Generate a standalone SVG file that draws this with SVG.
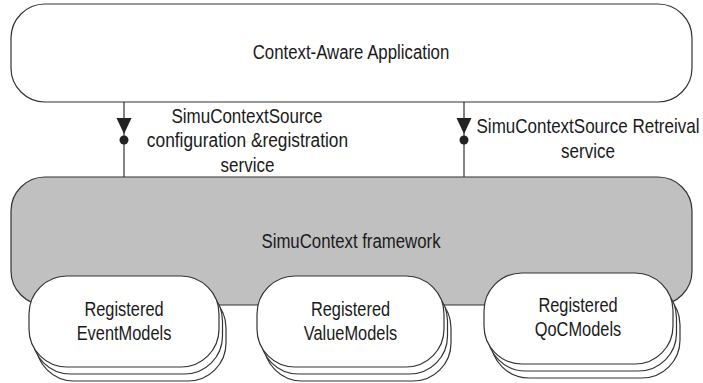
<svg xmlns="http://www.w3.org/2000/svg" width="703" height="383" viewBox="0 0 703 383">
<style>
.box{fill:#fff;stroke:#333;stroke-width:1.2}
.fw{fill:#c0c0c0;stroke:#333;stroke-width:1.2}
.ln{stroke:#333;stroke-width:1.2;fill:none}
.hd{fill:#222}
text{font-family:"Liberation Sans",Arial,sans-serif;font-size:21px;fill:#1a1a1a;text-anchor:middle}
</style>
<rect width="703" height="383" fill="#fff"/>
<g id="app">
<rect class="box" x="11" y="4" width="681" height="98" rx="34" ry="34"/>
<text transform="matrix(0.80 0 0 1 351 58.5)">Context-Aware Application</text>
</g>
<g id="framework">
<rect class="fw" x="11" y="177" width="681" height="128" rx="34" ry="34"/>
<text transform="matrix(0.80 0 0 1 351 248)">SimuContext framework</text>
</g>
<g id="connectors">
<line class="ln" x1="124" y1="102" x2="124" y2="177"/>
<path class="hd" d="M116.5,118 L131.5,118 L124,134 Z"/>
<circle class="hd" cx="124" cy="140" r="4.5"/>
<line class="ln" x1="464" y1="102" x2="464" y2="177"/>
<path class="hd" d="M456.5,118 L471.5,118 L464,134 Z"/>
<circle class="hd" cx="464" cy="140" r="4.5"/>
</g>
<g id="label-config">
<text transform="matrix(0.81 0 0 1 247 123)">SimuContextSource</text>
<text transform="matrix(0.825 0 0 1 247.5 147)">configuration &amp;registration</text>
<text transform="matrix(0.81 0 0 1 247.5 172)">service</text>
</g>
<g id="label-retrieval">
<text transform="matrix(0.81 0 0 1 588 133)">SimuContextSource Retreival</text>
<text transform="matrix(0.81 0 0 1 588 158)">service</text>
</g>
<g id="event-models">
<rect class="box" x="36" y="290" width="190" height="91" rx="38" ry="38"/>
<rect class="box" x="32.5" y="283" width="190" height="91" rx="38" ry="38"/>
<rect class="box" x="29" y="276" width="190" height="91" rx="38" ry="38"/>
<text transform="matrix(0.78 0 0 1 124 316)">Registered</text>
<text transform="matrix(0.78 0 0 1 124 340)">EventModels</text>
</g>
<g id="value-models">
<rect class="box" x="264" y="290" width="187" height="91" rx="38" ry="38"/>
<rect class="box" x="260.5" y="283" width="187" height="91" rx="38" ry="38"/>
<rect class="box" x="257" y="276" width="187" height="91" rx="38" ry="38"/>
<text transform="matrix(0.78 0 0 1 350.5 316)">Registered</text>
<text transform="matrix(0.78 0 0 1 350.5 340)">ValueModels</text>
</g>
<g id="qoc-models">
<rect class="box" x="491" y="287" width="189" height="91" rx="38" ry="38"/>
<rect class="box" x="487.5" y="280" width="189" height="91" rx="38" ry="38"/>
<rect class="box" x="484" y="273" width="189" height="91" rx="38" ry="38"/>
<text transform="matrix(0.78 0 0 1 578 312)">Registered</text>
<text transform="matrix(0.78 0 0 1 578 336)">QoCModels</text>
</g>
</svg>
